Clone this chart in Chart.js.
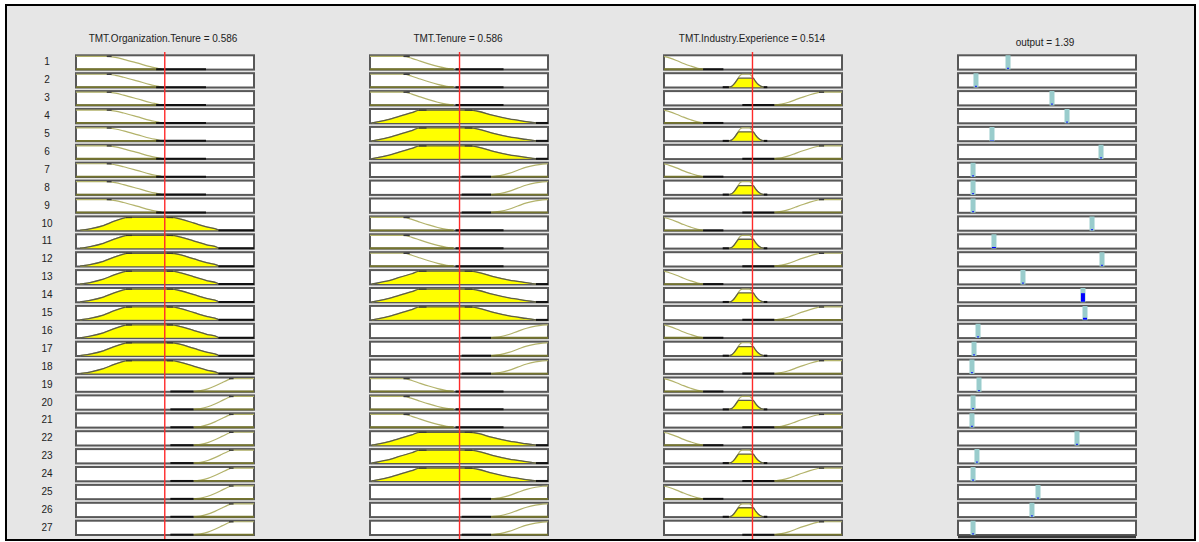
<!DOCTYPE html>
<html>
<head>
<meta charset="utf-8">
<script src="https://cdn.jsdelivr.net/npm/chart.js@4.4.1/dist/chart.umd.min.js"></script>
<style>
  body { margin: 0; width: 1199px; height: 542px; overflow: hidden; position: relative; background: #fff;
         font-family: "Liberation Sans", Arial, sans-serif; }
  #frame { position: absolute; left: 5px; top: 4px; width: 1187px; height: 533px; border: 2px solid #000; background: #e6e6e6; }
  canvas { position: absolute; }
  .title { position: absolute; width: 240px; font-size: 10px; line-height: 12px; color: #222; text-align: center; }
  .rl { position: absolute; width: 30px; font-size: 10px; line-height: 12px; color: #222; text-align: center; }
</style>
</head>
<body>
<div id="frame"></div>
<script>
const titles = ['TMT.Organization.Tenure = 0.586', 'TMT.Tenure = 0.586', 'TMT.Industry.Experience = 0.514', 'output = 1.39'];
const ruleNumbers = Array.from({ length: 27 }, (_, i) => String(i + 1));

const orgRange = [0, 1.175];
const tenRange = [0, 1.165];
const indRange = [0, 1.034];
const outRange = [0, 2];

const inputValues = [0.586, 0.586, 0.514];

// antecedent membership function used by each rule (0 low, 1 mid, 2 high)
const orgRuleMF = [0,0,0,0,0,0,0,0,0, 1,1,1,1,1,1,1,1,1, 2,2,2,2,2,2,2,2,2];
const tenRuleMF = [0,0,0,1,1,1,2,2,2, 0,0,0,1,1,1,2,2,2, 0,0,0,1,1,1,2,2,2];
const indRuleMF = [0,1,2,0,1,2,0,1,2, 0,1,2,0,1,2,0,1,2, 0,1,2,0,1,2,0,1,2];

// membership curves [x, mu]
const orgLow  = [[0,1],[0.203,1],[0.26,0.92],[0.314,0.77],[0.402,0.49],[0.49,0.2],[0.546,0.06],[0.564,0]];
const orgMid  = [[0.027,0],[0.093,0.12],[0.181,0.375],[0.248,0.69],[0.314,0.94],[0.336,1],[0.624,1],[0.691,0.87],[0.779,0.56],[0.867,0.25],[0.934,0.06],[0.94,0]];
const orgHigh = [[0.776,0],[0.823,0.06],[0.87,0.2],[0.917,0.42],[0.964,0.68],[0.999,0.88],[1.028,1],[1.175,1]];
const tenLow  = [[0,1],[0.219,1],[0.274,0.85],[0.329,0.63],[0.384,0.42],[0.443,0.22],[0.501,0.07],[0.548,0]];
const tenMid  = [[0.012,0],[0.099,0.2],[0.186,0.49],[0.274,0.8],[0.326,1],[0.647,1],[0.713,0.89],[0.8,0.6],[0.91,0.31],[1.021,0.11],[1.086,0]];
const tenHigh = [[0.792,0],[0.85,0.08],[0.909,0.25],[0.967,0.5],[1.025,0.74],[1.083,0.9],[1.13,0.98],[1.165,1]];
const indLow  = [[0,1],[0.031,0.88],[0.072,0.68],[0.114,0.45],[0.155,0.25],[0.196,0.08],[0.227,0]];
const indMid  = [[0.377,0],[0.393,0.06],[0.408,0.25],[0.424,0.55],[0.434,0.78],[0.445,0.95],[0.455,1],[0.496,1],[0.507,0.9],[0.517,0.7],[0.533,0.42],[0.548,0.2],[0.564,0.06],[0.579,0]];
const indHigh = [[0.641,0],[0.682,0.08],[0.724,0.22],[0.765,0.42],[0.807,0.62],[0.848,0.8],[0.889,0.95],[0.91,1],[1.034,1]];

// dark segments [x1, x2, mu]
const orgLowDark  = [[0.529,0.858,0],[0.203,0.235,1]];
const orgMidDark  = [[0.94,1.175,0],[0.33,0.37,1],[0.6,0.64,1]];
const orgHighDark = [[0.623,0.776,0],[1.01,1.04,1]];
const tenLowDark  = [[0.56,0.874,0],[0.219,0.26,1]];
const tenMidDark  = [[1.086,1.165,0],[0.32,0.37,1],[0.62,0.67,1]];
const tenHighDark = [[0.6,0.792,0]];
const indLowDark  = [[0.227,0.345,0]];
const indMidDark  = [[0.341,0.377,0],[0.579,0.6,0]];
const indHighDark = [[0.455,0.641,0],[0.9,0.93,1]];

// membership degree of each MF at the current input
const orgMu = [0, 1, 0];
const tenMu = [0, 1, 0];
const indMu = [0, 0.7, 0];

// rule outputs (singletons) and firing strengths
const outPos = [0.562,0.202,1.056,1.225,0.382,1.607,0.169,0.169,0.169,1.506,0.404,1.618,0.73,1.404,1.427,0.225,0.18,0.157,0.236,0.169,0.157,1.337,0.213,0.169,0.899,0.831,0.169];
const fireStrength = [0,0,0,0,0.05,0,0,0,0,0,0.1,0,0,0.68,0.16,0,0,0,0,0,0,0,0,0,0,0,0];

// --- layout ---
const ROW_TOP = 55.3, PITCH = 17.9, BOX_H = 14.3;
const CANVAS_TOP = 52, CANVAS_BOTTOM = 539;
const colLeft = [76, 370, 664, 958];
const colCenter = [163, 458, 752, 1045];
const COL_W = 177.5, PAD = 4;
const BOX_V = BOX_H / PITCH;
const Y_MIN = -(ROW_TOP - CANVAS_TOP) / PITCH;
const Y_MAX = (CANVAS_BOTTOM - ROW_TOP) / PITCH;

const yOf = (row, m) => row + 0.06 + (1 - m) * 0.72;

titles.forEach((t, c) => {
  const d = document.createElement('div');
  d.className = 'title';
  d.textContent = t;
  d.style.left = (colCenter[c] - 120) + 'px';
  d.style.top = (c === 3 ? 37 : 33) + 'px';
  document.body.appendChild(d);
});
ruleNumbers.forEach((n, i) => {
  const d = document.createElement('div');
  d.className = 'rl';
  d.textContent = n;
  d.style.left = '32px';
  d.style.top = (ROW_TOP + PITCH * i + BOX_H / 2 - 6) + 'px';
  document.body.appendChild(d);
});

const boxPlugin = {
  id: 'boxes',
  beforeDatasetsDraw(chart, args, opts) {
    const { ctx, chartArea, scales } = chart;
    ctx.save();
    for (let i = 0; i < 27; i++) {
      const top = scales.y.getPixelForValue(i);
      const bot = scales.y.getPixelForValue(i + BOX_V);
      ctx.fillStyle = '#fff';
      ctx.fillRect(chartArea.left, top, chartArea.width, bot - top);
      ctx.strokeStyle = '#585858';
      ctx.lineWidth = 2;
      ctx.strokeRect(chartArea.left, top, chartArea.width, bot - top);
    }
    if (opts.aggregate) {
      const y = scales.y.getPixelForValue(Y_MAX) - 2;
      ctx.strokeStyle = '#3a3a3a';
      ctx.lineWidth = 2.5;
      ctx.beginPath();
      ctx.moveTo(chartArea.left, y);
      ctx.lineTo(chartArea.right, y);
      ctx.stroke();
    }
    ctx.restore();
  }
};

function makeCanvas(c) {
  const cv = document.createElement('canvas');
  cv.width = Math.round(COL_W + 2 * PAD);
  cv.height = CANVAS_BOTTOM - CANVAS_TOP;
  cv.style.left = (colLeft[c] - PAD) + 'px';
  cv.style.top = CANVAS_TOP + 'px';
  document.body.appendChild(cv);
  return cv;
}

function drawChart(c, range, datasets, aggregate) {
  new Chart(makeCanvas(c), {
    type: 'line',
    data: { datasets },
    options: {
      responsive: false,
      animation: false,
      layout: { padding: { left: PAD, right: PAD, top: 0, bottom: 0 } },
      elements: { point: { radius: 0 }, line: { borderCapStyle: 'butt' } },
      scales: {
        x: { type: 'linear', min: range[0], max: range[1], display: false },
        y: { type: 'linear', min: Y_MIN, max: Y_MAX, reverse: true, display: false }
      },
      plugins: { legend: { display: false }, tooltip: { enabled: false }, boxes: { aggregate } }
    },
    plugins: [boxPlugin]
  });
}

function inputDatasets(shapes, darks, mu, ruleMF, value) {
  const sets = [];
  ruleMF.forEach((k, i) => {
    sets.push({
      data: shapes[k].map(([x, m]) => ({ x, y: yOf(i, m) })),
      borderColor: '#b3b36b', borderWidth: 1.2, fill: false,
      cubicInterpolationMode: 'monotone', order: 3
    });
    sets.push({
      data: shapes[k].map(([x, m]) => ({ x, y: yOf(i, Math.min(m, mu[k])) })),
      borderColor: mu[k] > 0 ? '#5e5e48' : '#74742e', borderWidth: mu[k] > 0 ? 1.3 : 1.8,
      backgroundColor: '#ffff00',
      fill: { value: yOf(i, 0) }, cubicInterpolationMode: 'monotone', order: 2
    });
    darks[k].forEach(([x1, x2, m]) => {
      sets.push({
        data: [{ x: x1, y: yOf(i, m) }, { x: x2, y: yOf(i, m) }],
        borderColor: m > 0 ? '#3a3a3a' : '#111', borderWidth: m > 0 ? 1.4 : 2, fill: false, order: 1
      });
    });
  });
  sets.push({
    data: [{ x: value, y: Y_MIN }, { x: value, y: Y_MAX }],
    borderColor: '#ff2a2a', borderWidth: 1.4, fill: false, order: 0
  });
  return sets;
}

drawChart(0, orgRange, inputDatasets([orgLow, orgMid, orgHigh], [orgLowDark, orgMidDark, orgHighDark], orgMu, orgRuleMF, inputValues[0]), false);
drawChart(1, tenRange, inputDatasets([tenLow, tenMid, tenHigh], [tenLowDark, tenMidDark, tenHighDark], tenMu, tenRuleMF, inputValues[1]), false);
drawChart(2, indRange, inputDatasets([indLow, indMid, indHigh], [indLowDark, indMidDark, indHighDark], indMu, indRuleMF, inputValues[2]), false);

const outSets = [];
outPos.forEach((p, i) => {
  outSets.push({
    data: [{ x: p, y: i }, { x: p, y: i + BOX_V }],
    borderColor: '#99cccc', borderWidth: 5, fill: false, order: 2
  });
  const f = fireStrength[i];
  outSets.push({
    data: [{ x: p, y: i + BOX_V - 0.03 }, { x: p, y: f > 0 ? yOf(i, f) : i + BOX_V - 0.1 }],
    borderColor: '#0000ff', borderWidth: f > 0 ? 4 : 1.5, fill: false, order: 1
  });
});
drawChart(3, outRange, outSets, true);
</script>
</body>
</html>
